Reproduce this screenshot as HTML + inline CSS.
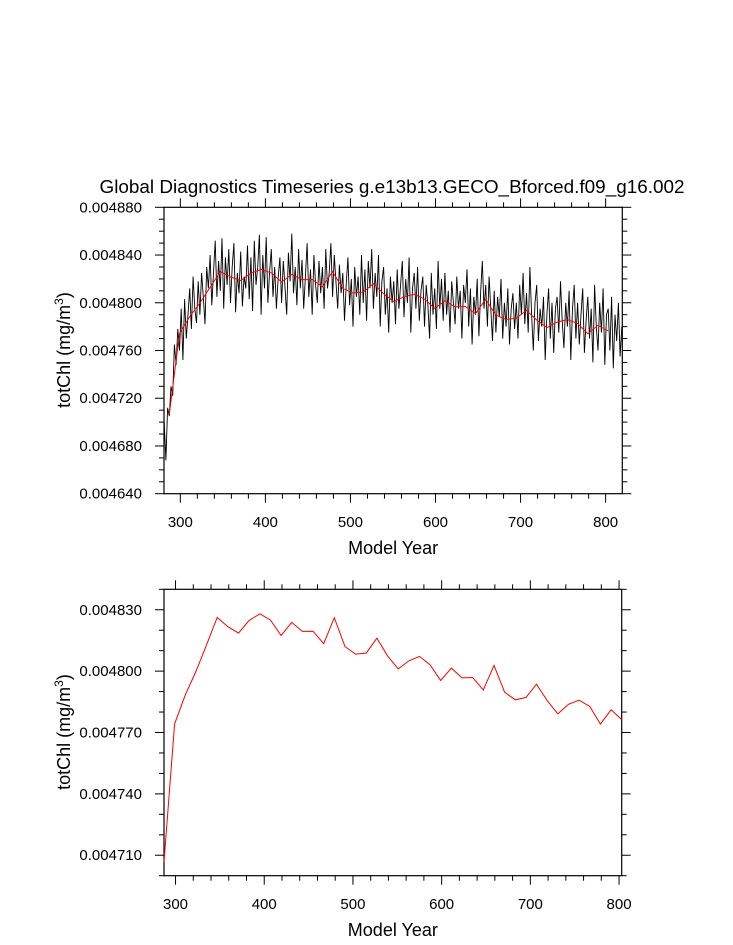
<!DOCTYPE html>
<html><head><meta charset="utf-8">
<style>
html,body{margin:0;padding:0;background:#fff;}
svg{display:block;font-family:"Liberation Sans",sans-serif;}
</style></head>
<body>
<svg id="chart" width="733" height="945" viewBox="0 0 733 945" xmlns="http://www.w3.org/2000/svg">
<text x="392" y="193" font-size="18" text-anchor="middle" textLength="585" lengthAdjust="spacingAndGlyphs">Global Diagnostics Timeseries g.e13b13.GECO_Bforced.f09_g16.002</text>
<g id="top"></g>
<g id="bot"></g>
</svg>
<script>
// ---- data ----
const redYears = [287,299,311,323,335,347,359,371,383,395,407,419,431,443,455,467,479,491,503,515,527,539,551,563,575,587,599,611,623,635,647,659,671,683,695,707,719,731,743,755,767,779,791,803];
const redValues = [4.7068,4.7742,4.7884,4.7998,4.8129,4.8262,4.8217,4.8186,4.8248,4.8280,4.8250,4.8174,4.8238,4.8194,4.8195,4.8134,4.8261,4.8120,4.8083,4.8088,4.8161,4.8075,4.8011,4.8050,4.8072,4.8031,4.7954,4.8015,4.7967,4.7969,4.7908,4.8028,4.7897,4.7860,4.7871,4.7936,4.7856,4.7791,4.7838,4.7858,4.7827,4.7741,4.7811,4.7763];
const blackStartYear = 281;
const blackStep = 2;
const blackValues = [4700,4668,4712,
4705,4730,4722,4765,4748,4778,
4760,4795,4752,4803,4770,4790,
4812,4778,4822,4795,4783,4818,
4790,4825,4805,4782,4830,4812,
4840,4798,4825,4852,4805,4835,
4810,4854,4795,4838,4815,4845,
4800,4830,4850,4792,4825,4808,
4843,4797,4822,4812,4848,4803,
4838,4793,4852,4815,4830,4857,
4790,4840,4812,4855,4800,4826,
4845,4805,4830,4795,4820,4838,
4800,4835,4813,4790,4842,4818,
4858,4808,4830,4798,4845,4812,
4836,4795,4822,4850,4805,4828,
4790,4840,4815,4800,4835,4808,
4830,4795,4845,4812,4825,4850,
4805,4840,4817,4795,4832,4808,
4825,4785,4815,4838,4798,4820,
4780,4830,4805,4822,4790,4840,
4800,4828,4785,4835,4812,4845,
4795,4825,4805,4840,4780,4818,
4830,4790,4812,4775,4822,4800,
4818,4782,4828,4795,4815,4835,
4788,4820,4800,4838,4775,4812,
4825,4795,4830,4785,4810,4822,
4780,4815,4798,4770,4825,4790,
4812,4778,4835,4795,4820,4785,
4825,4790,4810,4775,4818,4800,
4782,4822,4795,4810,4770,4815,
4800,4828,4780,4812,4765,4805,
4790,4820,4772,4808,4835,4795,
4815,4780,4822,4795,4768,4810,
4775,4805,4788,4820,4770,4800,
4780,4812,4765,4795,4808,4778,
4800,4770,4815,4790,4825,4782,
4808,4775,4830,4790,4760,4800,
4815,4768,4795,4780,4805,4752,
4790,4812,4770,4800,4758,4795,
4805,4775,4818,4785,4762,4800,
4780,4810,4752,4795,4815,4770,
4800,4765,4790,4812,4758,4785,
4805,4770,4795,4750,4815,4780,
4760,4800,4775,4812,4748,4790,
4795,4760,4805,4745,4790,4768,
4800,4755,4780];
const xTickLabels = ["300","400","500","600","700","800"];
const topYTickLabels = ["0.004640","0.004680","0.004720","0.004760","0.004800","0.004840","0.004880"];
const botYTickLabels = ["0.004710","0.004740","0.004770","0.004800","0.004830"];

const NS="http://www.w3.org/2000/svg";
function mk(parent,tag,attrs){const e=document.createElementNS(NS,tag);for(const k in attrs)e.setAttribute(k,attrs[k]);parent.appendChild(e);return e;}

function panel(g,cfg){
  const {L,R,T,B,x0,x1,y0,y1,ymin,ymajor,yminorStep,xlabY,titleY,ytitleY} = cfg;
  const sx=v=>L+(v-x0)/(x1-x0)*(R-L);
  const sy=v=>B-(v-y0)/(y1-y0)*(B-T);
  const fr=mk(g,'rect',{x:L,y:T,width:R-L,height:B-T,fill:'none',stroke:'#000','stroke-width':1.2});
  
  
  for(let yr=Math.ceil(x0/20)*20; yr<=x1; yr+=20){
    const X=sx(yr), major=yr%100===0, len=major?9:5;
    const t1=mk(g,'line',{x1:X,x2:X,y1:B,y2:B+len,stroke:'#000','stroke-width':1});
    
    
    const t2=mk(g,'line',{x1:X,x2:X,y1:T,y2:T-len,stroke:'#000','stroke-width':1});
    
    
  }
  xTickLabels.forEach(s=>{
    const v=+s; if(v<x0||v>x1) return;
    const t=mk(g,'text',{x:sx(v),y:xlabY,'font-size':15,'text-anchor':'middle'});
    t.textContent=s;
    
    
  });
  const nMinor=Math.round((y1-y0)/yminorStep);
  for(let i=0;i<=nMinor;i++){
    const v=y0+i*yminorStep; const Y=sy(v);
    const rel=Math.round((v-ymin)/yminorStep);
    const major = rel % Math.round(ymajor/yminorStep)===0;
    const len=major?9:5;
    const a=mk(g,'line',{x1:L-len,x2:L,y1:Y,y2:Y,stroke:'#000','stroke-width':1});
    
    
    const b=mk(g,'line',{x1:R,x2:R+len,y1:Y,y2:Y,stroke:'#000','stroke-width':1});
    
    
  }
  cfg.ylabels.forEach(s=>{
    const v=parseFloat(s)*1000;
    const t=mk(g,'text',{x:L-22,y:sy(v)+5,'font-size':15,'text-anchor':'end'});
    t.textContent=s;
    
    
  });
  const xt=mk(g,'text',{x:(L+R)/2,y:titleY,'font-size':18,'text-anchor':'middle'});
  xt.textContent='Model Year';
  
  
  const yt=mk(g,'text',{x:0,y:0,'font-size':18,'text-anchor':'middle',transform:`translate(70,${ytitleY}) rotate(-90)`});
  yt.innerHTML='totChl (mg/m<tspan dy="-7" font-size="12">3</tspan><tspan dy="7">)</tspan>';
  
  
  return {sx,sy};
}

const topG=document.getElementById('top');
const tp=panel(topG,{L:164,R:622.3,T:207.3,B:493.7,x0:280.8,x1:819.6,y0:4.640,y1:4.880,ymin:4.640,ymajor:0.040,yminorStep:0.010,xlabY:527,titleY:554,ytitleY:350,ylabels:topYTickLabels});
let d='';
blackValues.forEach((v,i)=>{const yr=blackStartYear+i*blackStep;d+=(i?'L':'M')+tp.sx(yr).toFixed(1)+' '+tp.sy(v/1000).toFixed(1);});
const bl=mk(topG,'path',{d:d,fill:'none',stroke:'#000','stroke-width':0.9});


let dr='';
redYears.forEach((yr,i)=>{dr+=(i?'L':'M')+tp.sx(yr).toFixed(1)+' '+tp.sy(redValues[i]).toFixed(1);});
const rl=mk(topG,'path',{d:dr,fill:'none',stroke:'#f00','stroke-width':1});



const botG=document.getElementById('bot');
const bp=panel(botG,{L:164,R:621.7,T:589.3,B:875.7,x0:287,x1:803,y0:4.700,y1:4.840,ymin:4.710,ymajor:0.030,yminorStep:0.010,xlabY:909,titleY:936,ytitleY:732,ylabels:botYTickLabels});
let db='';
redYears.forEach((yr,i)=>{db+=(i?'L':'M')+bp.sx(yr).toFixed(1)+' '+bp.sy(redValues[i]).toFixed(1);});
const rb=mk(botG,'path',{d:db,fill:'none',stroke:'#f00','stroke-width':1});


</script>
</body></html>
